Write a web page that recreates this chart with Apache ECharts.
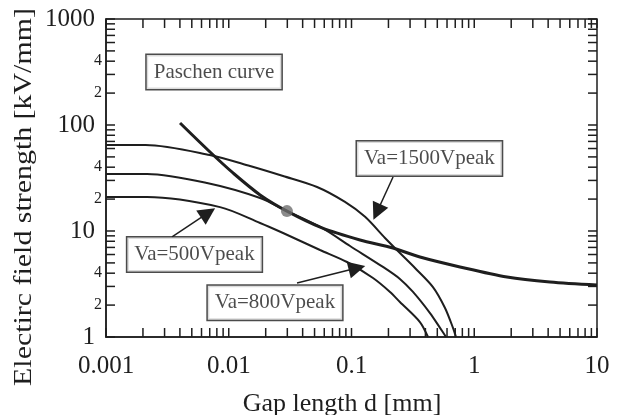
<!DOCTYPE html>
<html>
<head>
<meta charset="utf-8">
<title>Paschen curve</title>
<script src="https://cdn.jsdelivr.net/npm/echarts@6/dist/echarts.min.js"></script>
<style>
    html, body { margin: 0; padding: 0; background: #fff; }
    #main { width: 618px; height: 415px; }
</style>
</head>
<body>
<div id="main"></div>
<script>
// gap length d [mm] -> field strength [kV/mm]
var va1500X = [0.001, 0.0021, 0.0070, 0.0149, 0.0277, 0.0524, 0.0885, 0.129, 0.1875, 0.248, 0.329, 0.461, 0.578, 0.671, 0.71];
var va1500Y = [64.8, 64.8, 52.1, 41.0, 33.0, 26.0, 18.8, 13.6, 8.6, 6.2, 4.48, 2.96, 1.88, 1.22, 1.0];

var va800X = [0.001, 0.00216, 0.00665, 0.018, 0.0298, 0.0575, 0.0973, 0.1805, 0.248, 0.317, 0.436, 0.526, 0.589];
var va800Y = [34.5, 34.5, 28.4, 20.5, 15.4, 10.7, 7.22, 4.58, 3.53, 2.66, 1.68, 1.22, 1.0];

var va500X = [0.001, 0.00216, 0.00849, 0.018, 0.0277, 0.0554, 0.0919, 0.1497, 0.206, 0.248, 0.361, 0.42];
var va500Y = [20.9, 20.9, 16.8, 11.9, 9.57, 6.62, 5.10, 3.60, 2.66, 2.14, 1.385, 1.0];

var paschenX = [0.00401, 0.00704, 0.01083, 0.018, 0.0298, 0.0575, 0.1173, 0.2178, 0.361, 0.765, 1.848, 4.14, 10];
var paschenY = [104.4, 55.6, 35.3, 21.9, 15.4, 10.7, 8.23, 6.91, 5.68, 4.58, 3.68, 3.30, 3.09];

var dotPoint = [0.0298, 15.4];

// axis ticks / labels
var xTickLabels = ['0.001', '0.01', '0.1', '1', '10'];
var yTickLabels = ['1', '10', '100', '1000'];
var xDecades = [0.001, 0.01, 0.1, 1];
var yDecades = [1, 10, 100];
var tickSteps = [1, 2, 3, 4, 5, 6, 7, 8, 9];
var yMinorLabelValues = [2, 4, 20, 40, 200, 400];
var yMinorLabels = ['2', '4', '2', '4', '2', '4'];

// boxed notes and arrows
var noteNames = ['Paschen curve', 'Va=1500Vpeak', 'Va=500Vpeak', 'Va=800Vpeak'];
var noteX = [0.00759, 0.431, 0.00526, 0.0238];
var noteY = [316, 48.3, 6.0, 2.11];
var arrowFrom = [[0.218, 32.3], [0.00345, 8.78], [0.036, 3.23]];
var arrowTo = [[0.1613, 15.1], [0.00678, 14.8], [0.1109, 4.48]];

var INK = '#1e1e1e';
var FONT = 'Liberation Serif';
var TICK = 9;

function pairs(xs, ys) {
    return xs.map(function (x, i) { return [x, ys[i]]; });
}

var xTickValues = [];
xDecades.forEach(function (d) { tickSteps.forEach(function (s) { xTickValues.push([d * s, 1]); }); });
xTickValues.push([10, 1]);
var yTickValues = [];
yDecades.forEach(function (d) { tickSteps.forEach(function (s) { yTickValues.push([0.001, d * s]); }); });
yTickValues.push([0.001, 1000]);

var chart = echarts.init(document.getElementById('main'));

function curve(name, xs, ys, width) {
    return {
        name: name,
        type: 'line',
        data: pairs(xs, ys),
        symbol: 'none',
        smooth: 0.3,
        silent: true,
        lineStyle: { color: INK, width: width },
        z: 3
    };
}

var option = {
    backgroundColor: '#fff',
    animation: false,
    grid: {
        left: 106, right: 21, top: 19, bottom: 78,
        show: true, borderColor: INK, borderWidth: 1.5, backgroundColor: 'transparent'
    },
    xAxis: {
        type: 'log', logBase: 10, min: 0.001, max: 10,
        axisLine: { show: true, lineStyle: { color: INK, width: 1.5 } },
        axisTick: { show: false },
        splitLine: { show: false },
        axisLabel: {
            margin: 17, color: INK, fontFamily: FONT, fontSize: 25,
            formatter: function (v, i) { return xTickLabels[i]; }
        }
    },
    yAxis: {
        type: 'log', logBase: 10, min: 1, max: 1000,
        axisLine: { show: true, lineStyle: { color: INK, width: 1.5 } },
        axisTick: { show: false },
        splitLine: { show: false },
        axisLabel: {
            margin: 11, color: INK, fontFamily: FONT, fontSize: 25,
            formatter: function (v, i) { return yTickLabels[i]; }
        }
    },
    graphic: [
        {
            type: 'text', x: 342, y: 404, silent: true,
            style: { text: 'Gap length d [mm]', font: '26px "Liberation Serif"', fill: INK, textAlign: 'center', textVerticalAlign: 'middle' }
        },
        {
            type: 'text', x: 24, y: 197, rotation: Math.PI / 2, scaleX: 1.15, silent: true,
            style: { text: 'Electirc field strength [kV/mm]', font: '26px "Liberation Serif"', fill: INK, textAlign: 'center', textVerticalAlign: 'middle' }
        }
    ],
    series: [
        curve('Va=1500Vpeak', va1500X, va1500Y, 2),
        curve('Va=800Vpeak', va800X, va800Y, 2),
        curve('Va=500Vpeak', va500X, va500Y, 2),
        curve('Paschen curve', paschenX, paschenY, 3),
        {
            type: 'scatter', data: [dotPoint], symbolSize: 12, silent: true,
            itemStyle: { color: '#6e6e6e' }, z: 5
        },
        {
            // x ticks, bottom and top, drawn inward
            type: 'custom', data: xTickValues, silent: true, z: 4,
            renderItem: function (params, api) {
                var v = api.value(0);
                var b = api.coord([v, 1]);
                var t = api.coord([v, 1000]);
                var st = { stroke: INK, lineWidth: 1.5 };
                return {
                    type: 'group', children: [
                        { type: 'line', shape: { x1: b[0], y1: b[1], x2: b[0], y2: b[1] - TICK }, style: st },
                        { type: 'line', shape: { x1: t[0], y1: t[1], x2: t[0], y2: t[1] + TICK }, style: st }
                    ]
                };
            }
        },
        {
            // y ticks, left and right
            type: 'custom', data: yTickValues, silent: true, z: 4,
            renderItem: function (params, api) {
                var v = api.value(1);
                var l = api.coord([0.001, v]);
                var r = api.coord([10, v]);
                var st = { stroke: INK, lineWidth: 1.5 };
                return {
                    type: 'group', children: [
                        { type: 'line', shape: { x1: l[0], y1: l[1], x2: l[0] + TICK, y2: l[1] }, style: st },
                        { type: 'line', shape: { x1: r[0], y1: r[1], x2: r[0] - TICK, y2: r[1] }, style: st }
                    ]
                };
            }
        },
        {
            // small "2" / "4" labels on the y axis
            type: 'custom', silent: true, z: 4,
            data: yMinorLabelValues.map(function (v, i) { return [0.001, v, i]; }),
            renderItem: function (params, api) {
                var p = api.coord([0.001, api.value(1)]);
                return {
                    type: 'text', x: p[0] - 4, y: p[1],
                    style: {
                        text: yMinorLabels[api.value(2)], font: '16px "Liberation Serif"', fill: INK,
                        textAlign: 'right', textVerticalAlign: 'middle'
                    }
                };
            }
        },
        {
            type: 'scatter', silent: true, z: 6,
            symbolSize: 1,
            itemStyle: { color: 'rgba(0,0,0,0)' },
            data: noteNames.map(function (n, i) { return { name: n, value: [noteX[i], noteY[i]] }; }),
            label: {
                show: true, position: 'inside', formatter: '{b}',
                fontFamily: FONT, fontSize: 21, lineHeight: 24, color: INK,
                backgroundColor: '#fff', borderColor: INK, borderWidth: 1.5,
                padding: [5, 7, 5, 7]
            },
            markLine: {
                silent: true, animation: false,
                symbol: ['none', 'triangle'], symbolSize: 17,
                label: { show: false },
                lineStyle: { color: INK, width: 1.5, type: 'solid' },
                itemStyle: { color: INK },
                data: arrowFrom.map(function (f, i) {
                    return [{ coord: f }, { coord: arrowTo[i] }];
                })
            }
        }
    ]
};

chart.setOption(option);
</script>
</body>
</html>
